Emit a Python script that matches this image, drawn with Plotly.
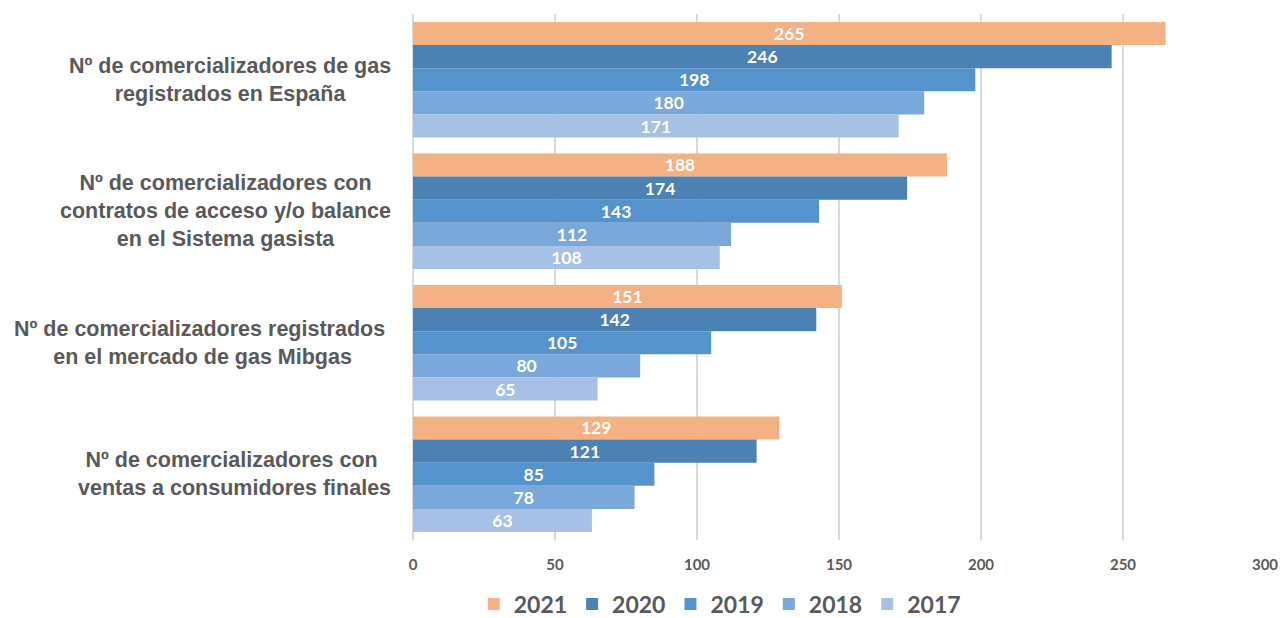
import plotly.graph_objects as go

categories = [
    "Nº de comercializadores de gas<br>registrados en España",
    "Nº de comercializadores con<br>contratos de acceso y/o balance<br>en el Sistema gasista",
    "Nº de comercializadores registrados\u00a0<br>en el mercado de gas Mibgas",
    "Nº de comercializadores con\u00a0<br>ventas a consumidores finales",
]
years = ["2021", "2020", "2019", "2018", "2017"]
values = {
    "2021": [265, 188, 151, 129],
    "2020": [246, 174, 142, 121],
    "2019": [198, 143, 105, 85],
    "2018": [180, 112, 80, 78],
    "2017": [171, 108, 65, 63],
}
colors = {
    "2021": "#F4B183",
    "2020": "#4C81B4",
    "2019": "#5593CC",
    "2018": "#7BA8DA",
    "2017": "#A6C1E5",
}
x_ticks = [0, 50, 100, 150, 200, 250, 300]

cat_ids = [f"c{i}" for i in range(len(categories))]

fig = go.Figure()
for yr in years:
    fig.add_trace(go.Bar(
        y=cat_ids, x=values[yr], name=yr, orientation="h",
        marker=dict(color=colors[yr], line=dict(width=0)),
        text=values[yr], textposition="inside", insidetextanchor="middle",
        constraintext="none",
        textfont=dict(family="Lato", size=17.5, color="white", weight="bold"),
        textangle=0, cliponaxis=False,
    ))

for cid, label in zip(cat_ids, categories):
    fig.add_annotation(
        x=-0.0235, xref="paper", y=cid, yref="y", text=label,
        xanchor="right", yanchor="middle", align="center", showarrow=False,
        font=dict(family="Liberation Sans", size=21.5, color="#595959", weight="bold"),
    )

fig.update_layout(
    width=1280, height=618,
    margin=dict(l=413, r=15, t=14, b=78, autoexpand=False),
    paper_bgcolor="white", plot_bgcolor="white",
    barmode="group", bargap=0.12, bargroupgap=0,
    uniformtext=dict(mode=False),
    xaxis=dict(
        range=[0, 300], tickvals=x_ticks, showgrid=True,
        gridcolor="#D9D9D9", gridwidth=1.5, zeroline=True,
        zerolinecolor="#D9D9D9", zerolinewidth=1.5,
        showline=False, ticks="", ticklabelstandoff=14,
        tickfont=dict(family="Lato", size=15, color="#595959", weight="bold"),
        automargin=False,
    ),
    yaxis=dict(
        categoryorder="array", categoryarray=cat_ids, autorange="reversed",
        showticklabels=False, showgrid=False, zeroline=False, ticks="",
        automargin=False,
    ),
    legend=dict(
        orientation="h", x=0.36, xanchor="center", y=-0.122, yanchor="middle",
        font=dict(family="Lato", size=23, color="#595959", weight="bold"),
        itemwidth=30, traceorder="normal",
    ),
    showlegend=True,
)

fig.write_html(
    "out.html",
    config={"displayModeBar": False},
    post_script="document.body.style.margin='0';document.body.style.padding='0';",
)
